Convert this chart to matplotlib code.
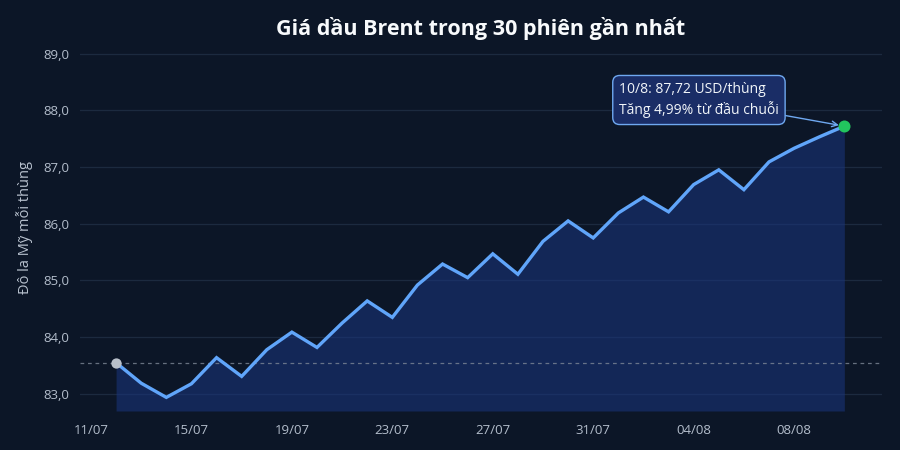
import matplotlib
matplotlib.use("Agg")
import matplotlib.pyplot as plt
import matplotlib.dates as mdates
import pandas as pd

plt.rcParams["font.family"] = ["Open Sans", "Noto Sans", "DejaVu Sans"]

# Data
dates = [
    "2024-07-12", "2024-07-13", "2024-07-14", "2024-07-15", "2024-07-16",
    "2024-07-17", "2024-07-18", "2024-07-19", "2024-07-20", "2024-07-21",
    "2024-07-22", "2024-07-23", "2024-07-24", "2024-07-25", "2024-07-26",
    "2024-07-27", "2024-07-28", "2024-07-29", "2024-07-30", "2024-07-31",
    "2024-08-01", "2024-08-02", "2024-08-03", "2024-08-04", "2024-08-05",
    "2024-08-06", "2024-08-07", "2024-08-08", "2024-08-09", "2024-08-10",
]
prices = [
    83.55, 83.19, 82.94, 83.18, 83.64, 83.31, 83.78, 84.09, 83.82, 84.25,
    84.64, 84.35, 84.92, 85.29, 85.05, 85.47, 85.11, 85.69, 86.05, 85.75,
    86.19, 86.47, 86.21, 86.69, 86.95, 86.60, 87.09, 87.33, 87.53, 87.72,
]
y_ticks = [83.0, 84.0, 85.0, 86.0, 87.0, 88.0, 89.0]
title = "Giá dầu Brent trong 30 phiên gần nhất"
y_label = "Đô la Mỹ mỗi thùng"
note = "10/8: 87,72 USD/thùng\nTăng 4,99% từ đầu chuỗi"

BG = "#0c1627"
GRID = "#1c2a3f"
LINE = "#60a5fa"
TEXT = "#b3bdcb"

x = pd.to_datetime(dates)
y_min = 82.7

fig = plt.figure(figsize=(9, 4.5), dpi=100, facecolor=BG)
ax = fig.add_axes([80 / 900, 1 - 411 / 450, 802 / 900, 366 / 450], facecolor=BG)

ax.fill_between(x, prices, y_min, color="#1a3680", alpha=0.55, lw=0, zorder=1)
ax.plot(x, prices, color=LINE, lw=2.4, zorder=3, solid_joinstyle="miter")
ax.axhline(prices[0], color="#7d8796", lw=0.9, ls=(0, (3, 3)), alpha=0.8, zorder=2)

ax.scatter([x[0]], [prices[0]], s=55, color="#b9c0ca", zorder=4, lw=0)
ax.scatter([x[-1]], [prices[-1]], s=75, color="#22c55e", zorder=5, lw=0)

ax.annotate(
    note, xy=(x[-1], prices[-1]), xytext=(619 / 900, 1 - 100 / 450),
    textcoords="figure fraction", va="center", ha="left",
    fontsize=10, color="#f1f5f9", linespacing=1.35, zorder=6,
    bbox=dict(boxstyle="round,pad=0.45,rounding_size=0.5", fc="#1a2d66",
              ec="#6fa8f0", lw=1.0),
    arrowprops=dict(arrowstyle="->", color="#6fa8f0", lw=1.0,
                    shrinkA=0, shrinkB=4),
)

start = pd.Timestamp("2024-07-11")
ax.set_xlim(start - pd.Timedelta(hours=10.5), start + pd.Timedelta(days=31.5))
ax.set_ylim(y_min, 89.15)
ax.set_xticks(pd.date_range(start, periods=8, freq="4D"))
ax.xaxis.set_major_formatter(mdates.DateFormatter("%d/%m"))
ax.set_yticks(y_ticks)
ax.set_yticklabels([f"{v:.1f}".replace(".", ",") for v in y_ticks])

ax.grid(axis="y", color=GRID, lw=0.9, zorder=0)
ax.set_axisbelow(True)
for s in ax.spines.values():
    s.set_visible(False)
ax.tick_params(axis="both", length=0, colors=TEXT, labelsize=9.5)
ax.tick_params(axis="x", pad=9)
ax.tick_params(axis="y", pad=8)

ax.set_ylabel(y_label, color="#b8c1ce", fontsize=10.5, labelpad=7)
fig.text(481 / 900, 1 - 28 / 450, title, ha="center", va="center",
         fontsize=15.5, fontweight="bold", color="#f8fafc")

fig.savefig("out.png", dpi=100, facecolor=BG)
